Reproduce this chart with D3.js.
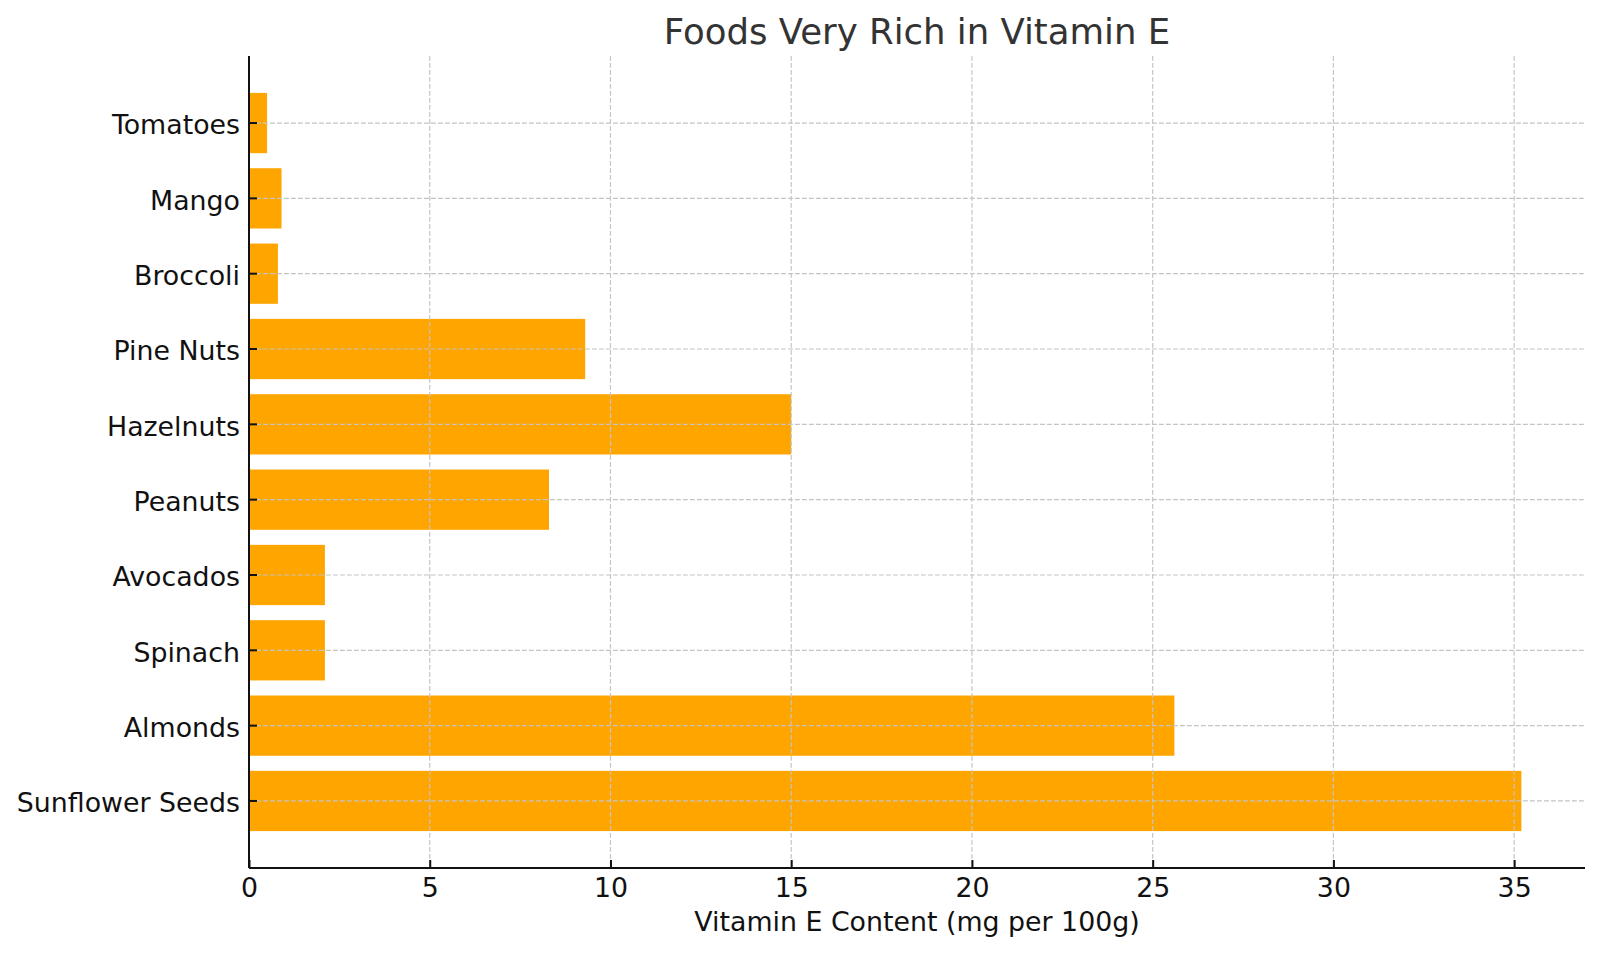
<!DOCTYPE html>
<html>
<head>
<meta charset="utf-8">
<script src="https://cdn.jsdelivr.net/npm/d3@7"></script>
<style>
  body { margin: 0; background: #fff; }
  svg text { font-family: "DejaVu Sans", sans-serif; }
</style>
</head>
<body>
<svg id="chart" width="1600" height="954"></svg>
<script>
var foods = ["Sunflower Seeds", "Almonds", "Spinach", "Avocados", "Peanuts",
             "Hazelnuts", "Pine Nuts", "Broccoli", "Mango", "Tomatoes"];
var vitaminE = [35.2, 25.6, 2.1, 2.1, 8.3, 15, 9.3, 0.8, 0.9, 0.5];
var xTicks = [0, 5, 10, 15, 20, 25, 30, 35];

var svg = d3.select('#chart');
var plotLeft = 249, plotRight = 1585, plotTop = 56, plotBottom = 868;

var x = d3.scaleLinear()
  .domain([0, d3.max(vitaminE) * 1.05])
  .range([plotLeft, plotRight]);

// first food at the bottom, same as matplotlib barh
var y = d3.scaleBand()
  .domain(foods)
  .range([plotBottom, plotTop])
  .paddingInner(0.2)
  .paddingOuter(0.49);

var data = foods.map(function(f, i) { return { food: f, value: vitaminE[i] }; });

svg.append("g")
  .attr("class", "bars")
  .selectAll("rect")
  .data(data)
  .enter().append("rect")
  .attr("x", x(0))
  .attr("y", function(d) { return y(d.food); })
  .attr("width", function(d) { return x(d.value) - x(0); })
  .attr("height", y.bandwidth())
  .attr("fill", "#ffa500");

// grid sits above the bars in the original
var grid = svg.append("g").attr("class", "grid")
  .attr('stroke', '#c4c4c4')
  .attr('stroke-width', 1.2)
  .attr('stroke-dasharray', '4.8,2.2');

grid.selectAll("line.v")
  .data(xTicks.filter(function(t) { return t > 0; }))
  .enter().append("line")
  .attr("class", "v")
  .attr("x1", function(d) { return x(d); })
  .attr("x2", function(d) { return x(d); })
  .attr("y1", plotTop)
  .attr("y2", plotBottom);

grid.selectAll("line.h")
  .data(foods)
  .enter().append("line")
  .attr("class", "h")
  .attr("x1", plotLeft)
  .attr("x2", plotRight)
  .attr("y1", function(d) { return y(d) + y.bandwidth() / 2; })
  .attr("y2", function(d) { return y(d) + y.bandwidth() / 2; });

// axes, ticks pointing inward
var xAxis = d3.axisBottom(x)
  .tickValues(xTicks)
  .tickSizeInner(-8)
  .tickSizeOuter(0)
  .tickPadding(10);

var gx = svg.append("g")
  .attr("transform", "translate(0," + plotBottom + ")")
  .call(xAxis);
gx.select(".domain").attr("stroke", "#111").attr("stroke-width", 2)
  .attr("d", "M" + plotLeft + ",0H" + plotRight);
gx.selectAll(".tick line").attr("stroke", "#111").attr("stroke-width", 2);
gx.selectAll(".tick text")
  .attr("fill", "#111")
  .style("font-size", "26.8px");

var yAxis = d3.axisLeft(y)
  .tickSizeInner(-8)
  .tickSizeOuter(0)
  .tickPadding(9);

var gy = svg.append("g")
  .attr("transform", "translate(" + plotLeft + ",0)")
  .call(yAxis);
gy.select(".domain").attr("stroke", "#111").attr("stroke-width", 2)
  .attr("d", "M0," + plotTop + "V" + plotBottom);
gy.selectAll(".tick line").attr("stroke", "#111").attr("stroke-width", 2);
gy.selectAll(".tick text")
  .attr("fill", "#111")
  .attr("x", -9)
  .attr("dy", "0.42em")
  .style("font-size", "26.8px");

svg.append("text")
  .attr("x", (plotLeft + plotRight) / 2)
  .attr("y", 931)
  .attr("text-anchor", "middle")
  .attr("fill", "#111")
  .style("font-size", "26.8px")
  .text("Vitamin E Content (mg per 100g)");

svg.append("text")
  .attr("x", (plotLeft + plotRight) / 2)
  .attr("y", 44)
  .attr("text-anchor", "middle")
  .attr("fill", "#333")
  .style("font-size", "35.5px")
  .text("Foods Very Rich in Vitamin E");
</script>
</body>
</html>
